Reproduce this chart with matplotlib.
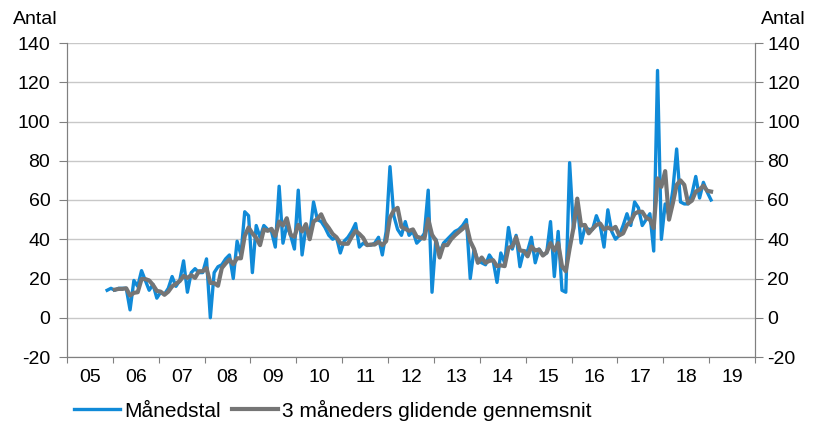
import numpy as np
import pandas as pd
import matplotlib
matplotlib.use("Agg")
import matplotlib.pyplot as plt

plt.rcParams["font.family"] = ["Liberation Sans", "DejaVu Sans"]
plt.rcParams["axes.unicode_minus"] = False

# Monthly counts, Nov 2005 - Jan 2019
manedstal = [
    14, 15,
    14, 15, 15, 15, 4, 19, 16, 24, 19, 14, 17, 10,
    13, 12, 15, 21, 16, 19, 29, 13, 23, 25, 23, 23,
    30, 0, 23, 26, 27, 30, 32, 20, 39, 32, 54, 52,
    23, 47, 41, 47, 45, 44, 36, 67, 38, 47, 42, 35,
    65, 32, 46, 42, 59, 50, 49, 46, 42, 40, 41, 33,
    39, 41, 44, 48, 36, 38, 37, 37, 38, 41, 32, 44,
    77, 52, 45, 42, 49, 42, 44, 38, 40, 43, 65, 13,
    40, 33, 38, 40, 42, 44, 45, 47, 50, 20, 35, 29,
    28, 27, 32, 29, 18, 33, 28, 46, 35, 42, 26, 34,
    34, 41, 28, 35, 32, 33, 49, 21, 44, 14, 13, 79,
    45, 58, 38, 46, 45, 45, 52, 47, 36, 55, 44, 40,
    42, 47, 53, 47, 59, 56, 47, 50, 53, 34, 126, 40,
    58, 52, 65, 86, 59, 58, 58, 63, 72, 61, 69, 64,
    60,
]

# 3-month moving average
glidende = [
    np.nan, np.nan,
    14.3, 14.7, 14.7, 15.0, 11.3, 12.7, 13.0, 19.7, 19.7, 19.0, 16.7, 13.7,
    13.3, 11.7, 13.3, 16.0, 17.3, 18.7, 21.3, 20.3, 21.7, 20.3, 23.7, 23.7,
    25.3, 17.7, 17.7, 16.3, 25.3, 27.7, 29.7, 27.3, 30.3, 30.3, 41.7, 46.0,
    43.0, 40.7, 37.0, 45.0, 44.3, 45.3, 41.7, 49.0, 47.0, 50.7, 42.3, 41.3,
    47.3, 44.0, 47.7, 40.0, 49.0, 50.3, 52.7, 48.3, 45.7, 42.7, 41.0, 38.0,
    37.7, 37.7, 41.3, 44.3, 42.7, 40.7, 37.0, 37.3, 37.3, 38.7, 37.0, 39.0,
    51.0, 54.7, 56.0, 46.3, 45.3, 44.3, 45.0, 41.3, 40.7, 40.3, 50.3, 42.3,
    39.3, 30.7, 37.0, 37.0, 40.0, 42.0, 43.7, 45.3, 47.3, 39.0, 35.0, 28.0,
    30.7, 28.0, 29.0, 29.3, 26.3, 26.7, 26.3, 35.7, 36.3, 41.0, 34.3, 34.0,
    31.3, 36.3, 34.3, 34.7, 31.7, 33.3, 38.0, 34.3, 38.0, 26.3, 23.7, 35.3,
    45.7, 60.7, 47.0, 47.3, 43.0, 45.3, 47.3, 48.0, 45.0, 46.0, 45.0, 46.3,
    42.0, 43.0, 47.3, 49.0, 53.0, 54.0, 54.0, 51.0, 50.0, 45.7, 71.0, 66.7,
    74.7, 50.0, 58.3, 67.7, 70.0, 67.7, 58.3, 59.7, 64.3, 65.3, 67.3, 64.7,
    64.3,
]

aar = ["05", "06", "07", "08", "09", "10", "11", "12", "13", "14", "15", "16", "17", "18", "19"]
yticks = [-20, 0, 20, 40, 60, 80, 100, 120, 140]

months = pd.period_range("2005-11", periods=len(manedstal), freq="M")
x = (months.year - 2005) + (months.month - 0.5) / 12

blue = "#108ad8"
gray = "#757575"
axis_col = "#808080"

fig = plt.figure(figsize=(8.16, 4.21), dpi=100)
ax = fig.add_axes([67 / 816, 1 - 357 / 421, (755 - 67) / 816, (357 - 43) / 421])

ax.plot(x, manedstal, color=blue, lw=2.4, solid_joinstyle="round", label="Månedstal")
ax.plot(x, glidende, color=gray, lw=3.0, solid_joinstyle="round",
        label="3 måneders glidende gennemsnit")

ax.set_xlim(0, 15)
ax.set_ylim(-20, 140)
ax.set_yticks(yticks)
ax.grid(axis="y", color="#c8c8c8", lw=1)
ax.set_axisbelow(True)

# year boundaries as ticks, labels centred in each year
ax.set_xticks(range(16))
ax.set_xticklabels([])
ax.set_xticks(np.arange(15) + 0.5, minor=True)
ax.set_xticklabels(aar, minor=True)
ax.tick_params(axis="x", which="minor", length=0, pad=9, labelsize=14)
ax.tick_params(axis="x", which="major", length=4, color=axis_col)
ax.tick_params(axis="y", length=6, pad=6, color=axis_col, labelsize=14)

for side in ["left", "right", "bottom"]:
    ax.spines[side].set_color(axis_col)
ax.spines["top"].set_visible(False)

# right-hand axis
ax2 = ax.twinx()
ax2.set_ylim(-20, 140)
ax2.set_yticks(yticks)
ax2.tick_params(axis="y", length=6, pad=3, color=axis_col, labelsize=14)
for side in ["left", "right", "bottom"]:
    ax2.spines[side].set_color(axis_col)
ax2.spines["top"].set_visible(False)

fig.text(13 / 816, 1 - 19 / 421, "Antal", ha="left", va="center", fontsize=14)
fig.text(806 / 816, 1 - 19 / 421, "Antal", ha="right", va="center", fontsize=14)

fig.legend(loc="center left", bbox_to_anchor=(74 / 816, 11 / 421), ncol=2,
           frameon=False, fontsize=15, handlelength=2.2, handletextpad=0.2,
           columnspacing=0.55, borderaxespad=0, borderpad=0)

fig.savefig("out.png", dpi=100)
